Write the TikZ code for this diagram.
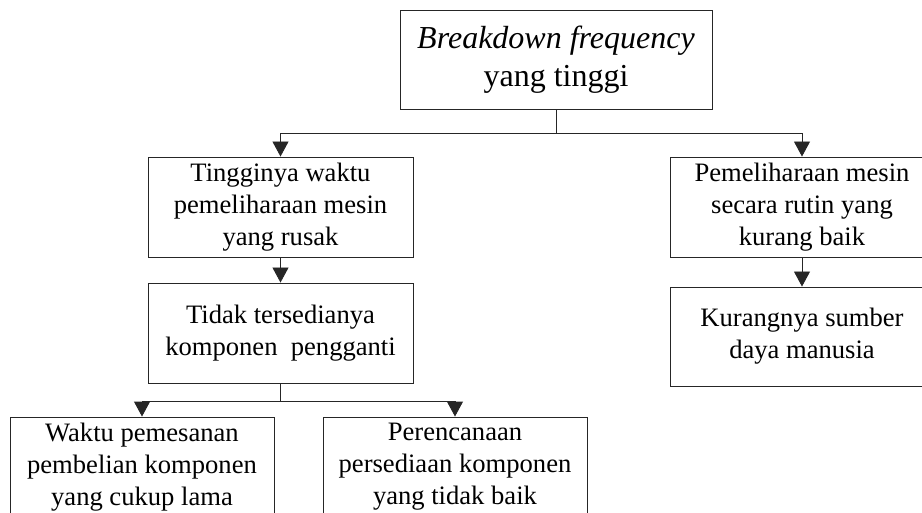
\documentclass[tikz,border=0pt]{standalone}
\usepackage{fontspec}
\setmainfont{Liberation Serif}
\usetikzlibrary{arrows.meta}
\begin{document}
\begin{tikzpicture}[x=1pt,y=-1pt,
  box/.style={draw=black!85, line width=0.9pt, align=center, inner sep=0pt,
    minimum width=264pt, minimum height=100pt,
    font=\fontsize{26.6}{32}\selectfont},
  link/.style={draw=black!85, line width=0.9pt},
  arr/.style={link, -{Triangle[length=15pt,width=16pt]}}]
  \path[use as bounding box, clip] (0,0) rectangle (922,513);

  % root
  \node[box, minimum width=312pt, minimum height=99pt,
    font=\fontsize{32}{38}\selectfont] (root) at (556,59.5)
    {\itshape Breakdown frequency\\yang tinggi};

  % left branch
  \node[box, minimum width=265pt] (waktu) at (280.5,207)
    {Tingginya waktu\\pemeliharaan mesin\\yang rusak};
  \node[box, minimum width=265pt] (tidak) at (280.5,333)
    {Tidak tersedianya\\komponen\ \ pengganti};
  \node[box] (pesan) at (142,467)
    {Waktu pemesanan\\pembelian komponen\\yang cukup lama};
  \node[box] (rencana) at (455,467)
    {Perencanaan\\persediaan komponen\\yang tidak baik};

  % right branch
  \node[box] (rutin) at (802,207)
    {Pemeliharaan mesin\\secara rutin yang\\kurang baik};
  \node[box, minimum height=99pt] (sdm) at (802,336.5)
    {Kurangnya sumber\\daya manusia};

  % connectors
  \coordinate (j1) at (556,133.5);
  \draw[link] (root.south) -- (j1);
  \draw[arr] (j1) -| (waktu.north);
  \draw[arr] (j1) -| (rutin.north);
  \draw[arr] (waktu) -- (tidak);
  \draw[arr] (rutin) -- (sdm);

  \coordinate (j2) at (280.5,401.5);
  \draw[link] (tidak.south) -- (j2);
  \draw[arr] (j2) -| (pesan.north);
  \draw[arr] (j2) -| (rencana.north);
\end{tikzpicture}
\end{document}
